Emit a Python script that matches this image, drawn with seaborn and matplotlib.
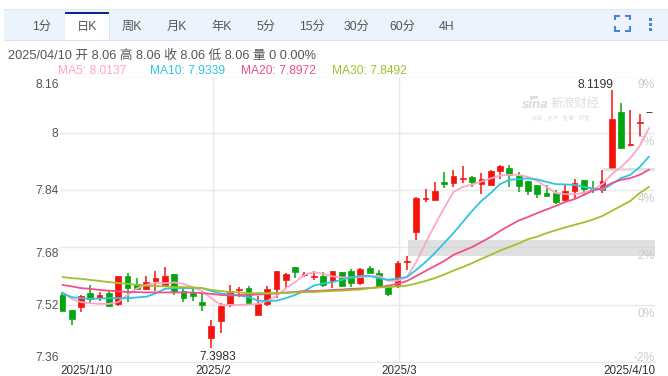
import matplotlib
matplotlib.use("Agg")
import matplotlib.pyplot as plt
from matplotlib.lines import Line2D
from matplotlib.patches import Rectangle
import numpy as np
import pandas as pd
import seaborn as sns

open_px = [7.547, 7.505, 7.513, 7.552, 7.538, 7.552, 7.522, 7.600, 7.578, 7.564, 7.586, 7.575, 7.606, 7.558, 7.552, 7.527,
           7.427, 7.474, 7.519, 7.561, 7.566, 7.491, 7.522, 7.564, 7.589, 7.625, 7.603, 7.597, 7.600, 7.586, 7.611, 7.614,
           7.580, 7.622, 7.608, 7.569, 7.572, 7.639, 7.723, 7.815, 7.813, 7.863, 7.860, 7.871, 7.877, 7.857, 7.855, 7.894,
           7.902, 7.880, 7.866, 7.855, 7.832, 7.832, 7.813, 7.838, 7.869, 7.846, 7.841, 7.902, 8.059, 7.966, 8.028, 8.06]
close_px = [7.502, 7.480, 7.544, 7.536, 7.547, 7.516, 7.600, 7.566, 7.564, 7.583, 7.594, 7.600, 7.558, 7.538, 7.544, 7.519,
            7.460, 7.516, 7.558, 7.564, 7.522, 7.522, 7.564, 7.614, 7.606, 7.611, 7.606, 7.600, 7.575, 7.614, 7.572, 7.580,
            7.620, 7.608, 7.572, 7.550, 7.636, 7.642, 7.818, 7.818, 7.838, 7.857, 7.880, 7.874, 7.863, 7.871, 7.894, 7.908,
            7.883, 7.852, 7.838, 7.829, 7.824, 7.807, 7.838, 7.860, 7.843, 7.843, 7.866, 8.039, 7.958, 7.969, 8.031, 8.06]
high_px = [7.555, 7.505, 7.547, 7.575, 7.555, 7.561, 7.600, 7.608, 7.594, 7.600, 7.614, 7.625, 7.606, 7.564, 7.564, 7.550,
           7.477, 7.524, 7.575, 7.569, 7.572, 7.544, 7.572, 7.614, 7.608, 7.625, 7.611, 7.614, 7.611, 7.614, 7.611, 7.620,
           7.622, 7.628, 7.617, 7.575, 7.642, 7.656, 7.821, 7.843, 7.863, 7.891, 7.897, 7.908, 7.880, 7.888, 7.897, 7.910,
           7.910, 7.891, 7.866, 7.855, 7.855, 7.841, 7.855, 7.871, 7.869, 7.866, 7.897, 8.1199, 8.084, 8.064, 8.053, 8.06]
low_px = [7.502, 7.463, 7.499, 7.524, 7.530, 7.516, 7.516, 7.527, 7.564, 7.561, 7.558, 7.575, 7.547, 7.527, 7.530, 7.502,
          7.3983, 7.440, 7.513, 7.541, 7.519, 7.491, 7.516, 7.538, 7.566, 7.594, 7.597, 7.589, 7.569, 7.566, 7.569, 7.569,
          7.575, 7.608, 7.572, 7.544, 7.566, 7.617, 7.701, 7.807, 7.813, 7.846, 7.849, 7.860, 7.849, 7.829, 7.855, 7.871,
          7.849, 7.835, 7.827, 7.818, 7.824, 7.801, 7.810, 7.815, 7.824, 7.832, 7.832, 7.902, 7.958, 7.964, 7.989, 8.06]

ma5 = [7.555, 7.536, 7.527, 7.524, 7.522, 7.522, 7.527, 7.547, 7.565, 7.575, 7.580, 7.580, 7.582, 7.578, 7.569, 7.558,
       7.538, 7.519, 7.519, 7.519, 7.520, 7.522, 7.530, 7.544, 7.566, 7.583, 7.603, 7.611, 7.606, 7.599, 7.596, 7.596,
       7.597, 7.599, 7.600, 7.586, 7.587, 7.597, 7.639, 7.692, 7.743, 7.790, 7.835, 7.849, 7.856, 7.864, 7.873, 7.881,
       7.883, 7.883, 7.877, 7.866, 7.849, 7.832, 7.829, 7.829, 7.833, 7.841, 7.857, 7.885, 7.905, 7.930, 7.964, 8.0137]
ma10 = [7.552, 7.541, 7.538, 7.536, 7.537, 7.538, 7.538, 7.538, 7.540, 7.542, 7.551, 7.564, 7.566, 7.566, 7.566, 7.566,
        7.558, 7.551, 7.548, 7.545, 7.541, 7.531, 7.530, 7.531, 7.538, 7.547, 7.558, 7.573, 7.579, 7.583, 7.589, 7.596,
        7.600, 7.600, 7.594, 7.589, 7.593, 7.597, 7.617, 7.639, 7.664, 7.692, 7.720, 7.751, 7.782, 7.810, 7.832, 7.857,
        7.869, 7.871, 7.873, 7.870, 7.863, 7.857, 7.856, 7.855, 7.849, 7.845, 7.841, 7.857, 7.874, 7.883, 7.905, 7.9339]
ma20 = [7.575, 7.571, 7.566, 7.564, 7.561, 7.559, 7.557, 7.555, 7.555, 7.554, 7.554, 7.554, 7.554, 7.554, 7.554, 7.552,
        7.550, 7.547, 7.545, 7.547, 7.547, 7.548, 7.550, 7.551, 7.554, 7.555, 7.558, 7.558, 7.559, 7.561, 7.562, 7.564,
        7.565, 7.566, 7.569, 7.573, 7.578, 7.586, 7.600, 7.614, 7.628, 7.642, 7.659, 7.670, 7.681, 7.695, 7.709, 7.726,
        7.741, 7.755, 7.765, 7.776, 7.786, 7.796, 7.807, 7.815, 7.827, 7.839, 7.846, 7.860, 7.869, 7.874, 7.883, 7.8972]
ma30 = [7.597, 7.594, 7.592, 7.589, 7.586, 7.583, 7.580, 7.578, 7.575, 7.573, 7.572, 7.571, 7.569, 7.569, 7.568, 7.566,
        7.561, 7.558, 7.555, 7.554, 7.552, 7.552, 7.552, 7.552, 7.552, 7.554, 7.555, 7.555, 7.557, 7.558, 7.559, 7.561,
        7.562, 7.566, 7.568, 7.569, 7.571, 7.573, 7.579, 7.586, 7.594, 7.604, 7.615, 7.625, 7.636, 7.648, 7.659, 7.671,
        7.681, 7.691, 7.703, 7.710, 7.720, 7.728, 7.736, 7.743, 7.750, 7.758, 7.768, 7.782, 7.796, 7.810, 7.832, 7.8492]

ma_names = ["MA5", "MA10", "MA20", "MA30"]
ma_colors = ["#ffa6c6", "#2fc4e2", "#f0508c", "#9dc32c"]

price_ticks = [8.16, 8, 7.84, 7.68, 7.52, 7.36]
price_labels = ["8.16", "8", "7.84", "7.68", "7.52", "7.36"]
pct_labels = ["9%", "7%", "4%", "2%", "0%", "-2%"]
date_labels = ["2025/1/10", "2025/2", "2025/3", "2025/4/10"]
tab_labels = ["1分", "日K", "周K", "月K", "年K", "5分", "15分", "30分", "60分", "4H"]

W, H = 668, 376
RED, GREEN = "#f5140c", "#05a50f"
LATIN_CJK = ["Liberation Sans", "Noto Sans CJK SC"]

sns.set_theme(style="white")
plt.rcParams["font.family"] = LATIN_CJK

fig = plt.figure(figsize=(W / 100, H / 100), dpi=100)


def px_text(x, y, s, **kw):
    kw.setdefault("fontsize", 8.64)
    kw.setdefault("va", "center")
    fig.text(x / W, 1 - y / H, s, **kw)


def px_rect(x0, y0, x1, y1, color):
    fig.add_artist(Rectangle((x0 / W, 1 - y1 / H), (x1 - x0) / W, (y1 - y0) / H,
                             transform=fig.transFigure, color=color, lw=0))


def px_line(xs, ys, color, lw=1.4):
    fig.add_artist(Line2D([x / W for x in xs], [1 - y / H for y in ys], color=color, lw=lw,
                          solid_capstyle="butt", solid_joinstyle="miter"))


def draw_header():
    px_rect(4, 8.5, W, 39.5, "#edf3fc")
    px_line([4, W], [8.7, 8.7], "#dfe7f2", 0.8)
    px_line([4, W], [39.5, 39.5], "#d8e2ef", 0.8)
    px_rect(64.5, 12, 109, 40, "white")
    px_rect(64.5, 12, 109, 14, "#0c2a8a")
    px_line([109, 109], [14, 40], "#d8e2ef", 0.8)
    for x, s in zip([41.5, 87, 131.6, 177, 222, 266, 312, 357, 402, 447], tab_labels):
        px_text(x, 27, s, ha="center", color="#555555", fontsize=8.8)

    blue = "#4a86cf"
    for xs, ys in [([615, 615, 620], [20, 15.5, 15.5]), ([625, 630, 630], [15.5, 15.5, 20]),
                   ([615, 615, 620], [26, 30.5, 30.5]), ([625, 630, 630], [30.5, 30.5, 26])]:
        px_line(xs, ys, blue, 1.5)
    for y in [19.5, 24.5, 29.5]:
        px_rect(648.5, y - 1.5, 651.5, y + 1.5, blue)

    px_text(8, 56, "2025/04/10 开 8.06 高 8.06 收 8.06 低 8.06 量 0 0.00%", ha="left", color="#555555", fontsize=9.2)
    for x, name, val, col in zip([58.5, 150, 241.5, 332.5], ma_names, [ma5, ma10, ma20, ma30], ma_colors):
        px_text(x, 71, f"{name}: {val[-1]:.4f}", ha="left", color=col)


def draw_watermark():
    px_text(522, 105, "sina", ha="left", color="#d9d9d9", fontsize=9.5, style="italic", weight="bold")
    px_text(550, 104, "新浪财经", ha="left", color="#dedede", fontsize=8.8)
    px_text(531, 118, "决策 · 资讯 · 智慧 · 财富", ha="left", color="#e4e4e4", fontsize=4)
    fig.add_artist(Rectangle((530 / W, 1 - 99 / H), 8 / W, 3 / H, transform=fig.transFigure, color="#dedede", lw=0))


def draw_chart():
    ax = fig.add_axes([60 / W, 1 - 363 / H, 595 / W, 286 / H])
    ax.patch.set_alpha(0)
    idx = np.arange(len(close_px))
    ax.set_xlim(-0.25, 63.64)
    ax.set_ylim(7.3566, 8.1566)

    for p in price_ticks:
        ax.axhline(p, color="#e8e8e8", lw=1.0, zorder=0)
    for v in [16.2, 36.2]:
        ax.axvline(v, color="#e8e8e8", lw=1.0, zorder=0)

    o, c, h, l = map(np.array, (open_px, close_px, high_px, low_px))
    colors = [RED if b >= a else GREEN for a, b in zip(o, c)]
    colors[-1] = "black"
    ax.vlines(idx[:-1], l[:-1], h[:-1], colors=colors[:-1], lw=1.1, zorder=2)
    heights = np.abs(c - o)
    ax.bar(idx, heights, bottom=np.minimum(o, c), width=0.62, color=colors, edgecolor=colors, lw=0.5, zorder=3)

    # gap zones
    ax.fill_between([37.1, 63.64], 7.656, 7.701, color="#cccccc", alpha=0.6, lw=0, zorder=4)
    ax.fill_between([58.1, 63.64], 7.894, 7.902, color="#cccccc", alpha=0.6, lw=0, zorder=4)

    df = pd.DataFrame({"i": idx, "MA5": ma5, "MA10": ma10, "MA20": ma20, "MA30": ma30})
    long_df = df.melt(id_vars="i", var_name="ma", value_name="price")
    sns.lineplot(data=long_df, x="i", y="price", hue="ma", hue_order=ma_names, palette=ma_colors,
                 lw=1.3, legend=False, ax=ax, zorder=5)

    ax.set_xlabel("")
    ax.set_ylabel("")
    ax.set_xticks([])
    ax.set_yticks([])
    sns.despine(ax=ax, left=True, bottom=True)

    # price labels sit a bit off their grid lines
    ytrans = ax.get_yaxis_transform()
    for p, s, pct, dy_l, dy_r in zip(price_ticks, price_labels, pct_labels,
                                     [-6.5, -0.5, -0.5, -4.5, -1, 3], [-6.5, -6.5, -6.5, -6.5, -6.5, 3]):
        ax.annotate(s, (0, p), xycoords=ytrans, xytext=(-1, dy_l), textcoords="offset points",
                    ha="right", va="center", fontsize=8.64, color="#555555", annotation_clip=False)
        ax.annotate(pct, (1, p), xycoords=ytrans, xytext=(0, dy_r), textcoords="offset points",
                    ha="right", va="center", fontsize=8.64, color="#cccccc", annotation_clip=False)

    xtrans = ax.get_xaxis_transform()
    for v, s, ha in zip([-0.25, 16.2, 36.2, 63.64], date_labels, ["left", "center", "center", "right"]):
        ax.annotate(s, (v, 0), xycoords=xtrans, xytext=(0, -5.6), textcoords="offset points",
                    ha=ha, va="center", fontsize=8.4, color="#333333", annotation_clip=False)

    # extreme labels
    top = int(np.argmax(h))
    bot = int(np.argmin(l))
    ax.annotate(f"{h[top]:.4f}", (top, h[top]), xytext=(-12, 3.5), textcoords="offset points",
                ha="center", va="center", fontsize=8.64, color="#333333", zorder=6)
    ax.annotate(f"{l[bot]:.4f}", (bot, l[bot]), xytext=(4.5, -6.5), textcoords="offset points",
                ha="center", va="center", fontsize=8.64, color="#333333", zorder=6)


draw_header()
draw_chart()
draw_watermark()
fig.savefig("out.png", dpi=100, facecolor="white")
